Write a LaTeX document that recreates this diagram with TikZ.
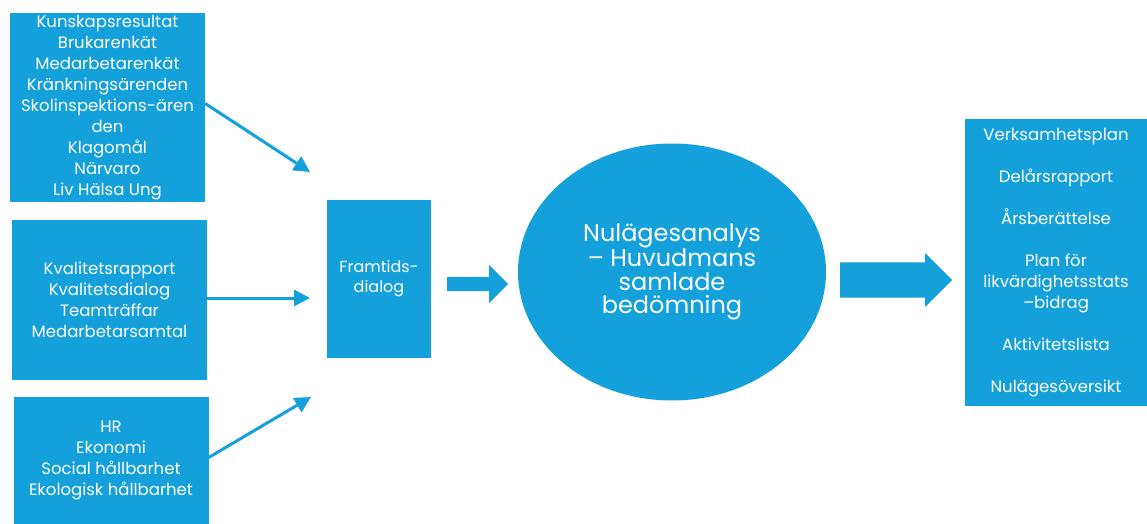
\documentclass[tikz,border=0pt]{standalone}
\usepackage{fontspec}
\setmainfont{Poppins}
\usetikzlibrary{arrows.meta, positioning, shapes.geometric, shapes.arrows}
\definecolor{boxblue}{RGB}{19,160,219}
\tikzset{
>={Triangle[length=16pt,width=16pt]}, % solid triangle heads for the thin arrows
every node/.style={text=white, align=center, font=\fontsize{16.5}{21}\selectfont}, % white text everywhere
source/.style={fill=boxblue, minimum width=195pt, inner sep=0pt}, % the three boxes on the left
feed/.style={->, draw=boxblue, line width=3pt}, % thin arrows into the dialog box
bigarrow/.style={single arrow, fill=boxblue, inner xsep=0pt, single arrow tip angle=90, anchor=tail}, % block arrows
}

\begin{document}
\begin{tikzpicture}[x=1pt, y=-1pt]
      \useasboundingbox (0,0) rectangle (1147,524);
      \node[source, minimum height=189pt] (kunskap) at (107.5,107.5) {Kunskapsresultat\\Brukarenkät\\Medarbetarenkät\\Kränkningsärenden\\Skolinspektions-ären\\den\\Klagomål\\Närvaro\\Liv Hälsa Ung};
      \node[source, minimum height=160pt] (kvalitet) at (109.5,300) {Kvalitetsrapport\\Kvalitetsdialog\\Teamträffar\\Medarbetarsamtal};
      \node[source, minimum height=127pt] (ekonomi) at (111,460.5) {HR\\Ekonomi\\Social hållbarhet\\Ekologisk hållbarhet};
      \node[fill=boxblue, minimum width=104pt, minimum height=158pt, inner sep=0pt, font=\fontsize{16}{20}\selectfont] (framtid) at (379,279) {Framtids-\\dialog};
      \node[ellipse, fill=boxblue, minimum width=308pt, minimum height=257pt, inner sep=0pt, font=\fontsize{24}{23.5}\selectfont] (analys) at (672,272) {Nulägesanalys\\– Huvudmans\\samlade\\bedömning};
      \node[fill=boxblue, minimum width=182pt, minimum height=287pt, inner sep=0pt] (planer) at (1056,262.5) {Verksamhetsplan\\[21pt]Delårsrapport\\[21pt]Årsberättelse\\[21pt]Plan för\\likvärdighetsstats\\–bidrag\\[21pt]Aktivitetslista\\[21pt]Nulägesöversikt};
      \node[bigarrow, minimum height=61pt, inner ysep=7pt, single arrow head extend=12pt] (pil1) at (447,284) {};
      \node[bigarrow, minimum height=112pt, inner ysep=17.5pt, single arrow head extend=9.5pt] (pil2) at (840,280) {};

      \coordinate (in1) at (310,172);
      \coordinate (in2) at (310,298);
      \coordinate (in3) at (311,397);

      \draw ([yshift=4pt]kunskap.east) edge[feed] (in1)
      ([yshift=2pt]kvalitet.east) edge[feed] (in2)
      ([yshift=3pt]ekonomi.east) edge[feed] (in3);
    \end{tikzpicture}
\end{document}
